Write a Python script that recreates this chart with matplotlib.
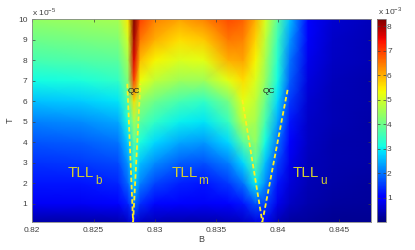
import numpy as np
import matplotlib
matplotlib.use("Agg")
import matplotlib.pyplot as plt

plt.rcParams['font.family'] = ['Liberation Sans', 'DejaVu Sans']

# field B (T), temperature in units of 1e-5, colour values in units of 1e-3
B = [0.8200, 0.8240, 0.8270, 0.8278, 0.8283, 0.8288, 0.8300, 0.8320, 0.8340,
     0.8360, 0.8372, 0.8382, 0.8390, 0.8400, 0.8410, 0.8425, 0.8445, 0.8476]
T = [0.1, 1, 2, 3, 4, 5, 6, 7, 8, 9, 10]

# one row per T (low to high)
row_t01 = [0.30, 0.30, 0.35, 0.50, 1.0, 0.50, 0.40, 0.35, 0.35, 0.40, 0.50, 0.70, 0.90, 0.40, 0.25, 0.20, 0.15, 0.15]
row_t1 = [0.85, 0.85, 0.95, 1.3, 2.0, 1.4, 1.1, 0.95, 0.90, 1.0, 1.2, 1.7, 1.6, 0.80, 0.50, 0.35, 0.25, 0.20]
row_t2 = [1.2, 1.2, 1.35, 1.9, 2.8, 2.1, 1.6, 1.3, 1.2, 1.5, 2.0, 3.0, 2.2, 1.2, 0.65, 0.40, 0.30, 0.25]
row_t3 = [1.45, 1.5, 1.65, 2.3, 3.3, 2.6, 2.2, 1.8, 1.7, 2.1, 2.8, 3.8, 2.6, 1.6, 0.80, 0.45, 0.35, 0.30]
row_t4 = [1.75, 1.8, 2.0, 2.7, 3.8, 3.2, 2.8, 2.4, 2.3, 2.8, 3.8, 4.4, 3.1, 2.0, 1.0, 0.50, 0.35, 0.30]
row_t5 = [2.1, 2.2, 2.4, 3.2, 4.6, 3.8, 3.4, 3.0, 2.9, 3.5, 4.8, 4.6, 3.6, 2.4, 1.2, 0.55, 0.40, 0.30]
row_t6 = [2.6, 2.7, 2.9, 3.7, 5.6, 4.4, 4.0, 3.6, 3.4, 4.1, 5.2, 4.8, 4.0, 2.8, 1.5, 0.60, 0.40, 0.35]
row_t7 = [3.1, 3.2, 3.4, 4.2, 7.0, 5.3, 4.8, 4.5, 4.5, 5.2, 5.6, 5.1, 4.4, 3.1, 1.8, 0.70, 0.45, 0.35]
row_t8 = [3.6, 3.7, 3.8, 4.6, 7.6, 5.9, 5.4, 5.1, 5.2, 6.0, 6.1, 5.4, 4.6, 3.3, 2.0, 0.80, 0.50, 0.40]
row_t9 = [4.0, 4.1, 4.2, 5.0, 8.0, 6.5, 6.0, 5.6, 5.8, 6.5, 6.4, 5.7, 4.8, 3.5, 2.3, 0.90, 0.55, 0.40]
row_t10 = [4.4, 4.5, 4.6, 5.5, 8.3, 7.0, 6.4, 6.1, 6.4, 6.9, 6.7, 6.0, 5.1, 3.8, 2.6, 1.0, 0.60, 0.45]

# quantum critical boundaries (dashed)
qc1_B = [0.82775, 0.82822, 0.82881]
qc1_T = [6.84, 0.1, 6.84]
qc2_B = [0.83713, 0.83876, 0.84085]
qc2_T = [6.06, 0.1, 6.64]

xticks = [0.82, 0.825, 0.83, 0.835, 0.84, 0.845]
yticks = [1, 2, 3, 4, 5, 6, 7, 8, 9, 10]
cticks = [1, 2, 3, 4, 5, 6, 7, 8]

Z = np.array([row_t01, row_t1, row_t2, row_t3, row_t4, row_t5,
              row_t6, row_t7, row_t8, row_t9, row_t10])

grey = '#404040'
fig = plt.figure(figsize=(4.15, 2.5), dpi=100)
ax = fig.add_axes([0.0778, 0.112, 0.8155, 0.812])
cax = fig.add_axes([0.9077, 0.112, 0.0217, 0.812])

mesh = ax.pcolormesh(B, T, Z, shading='gouraud', cmap='jet', vmin=0, vmax=8.3)

dash = dict(color='#ffee22', lw=1.3, dashes=(2.5, 1.5))
ax.plot(qc1_B[:2], qc1_T[:2], **dash)
ax.plot(qc1_B[1:], qc1_T[1:], **dash)
ax.plot(qc2_B[:2], qc2_T[:2], **dash)
ax.plot(qc2_B[1:], qc2_T[1:], **dash)

ax.text(0.8283, 6.45, 'QC', fontsize=6, ha='center', va='center', color='#222222')
ax.text(0.8393, 6.45, 'QC', fontsize=6, ha='center', va='center', color='#222222')

# phase labels: main text plus a dropped subscript
tll_col = '#d4cf30'
for x0, x1, sub in [(0.82292, 0.82511, 'b'), (0.83136, 0.83353, 'm'),
                    (0.84127, 0.84345, 'u')]:
    ax.text(x0, 2.30, 'TLL', fontsize=11, color=tll_col, ha='left', va='baseline')
    ax.text(x1, 1.97, sub, fontsize=8.5, color=tll_col, ha='left', va='baseline')

ax.set_xlim(0.82, 0.8476)
ax.set_ylim(0.1, 10)
ax.set_xticks(xticks)
ax.set_xticklabels(['0.82', '0.825', '0.83', '0.835', '0.84', '0.845'])
ax.set_yticks(yticks)
ax.tick_params(labelsize=6, colors=grey, direction='in', length=2, width=0.5,
               top=True, right=True)
for s in ax.spines.values():
    s.set_color('#888888')
    s.set_linewidth(0.6)
ax.set_xlabel('B', fontsize=6.5, color=grey, labelpad=1)
ax.set_ylabel('T', fontsize=6.5, color=grey, labelpad=2)
ax.text(0.0, 1.005, r'x 10$^{\mathregular{-5}}$', transform=ax.transAxes,
        fontsize=6, color=grey, ha='left', va='bottom')

cb = fig.colorbar(mesh, cax=cax, ticks=cticks)
cb.outline.set_edgecolor('#888888')
cb.outline.set_linewidth(0.6)
cax.tick_params(labelsize=6, colors=grey, direction='in', length=2, width=0.5,
                pad=1, left=True)
cax.text(0.1, 1.01, r'x 10$^{\mathregular{-3}}$', transform=cax.transAxes,
         fontsize=6, color=grey, ha='left', va='bottom')

fig.savefig('out.png', dpi=100)
